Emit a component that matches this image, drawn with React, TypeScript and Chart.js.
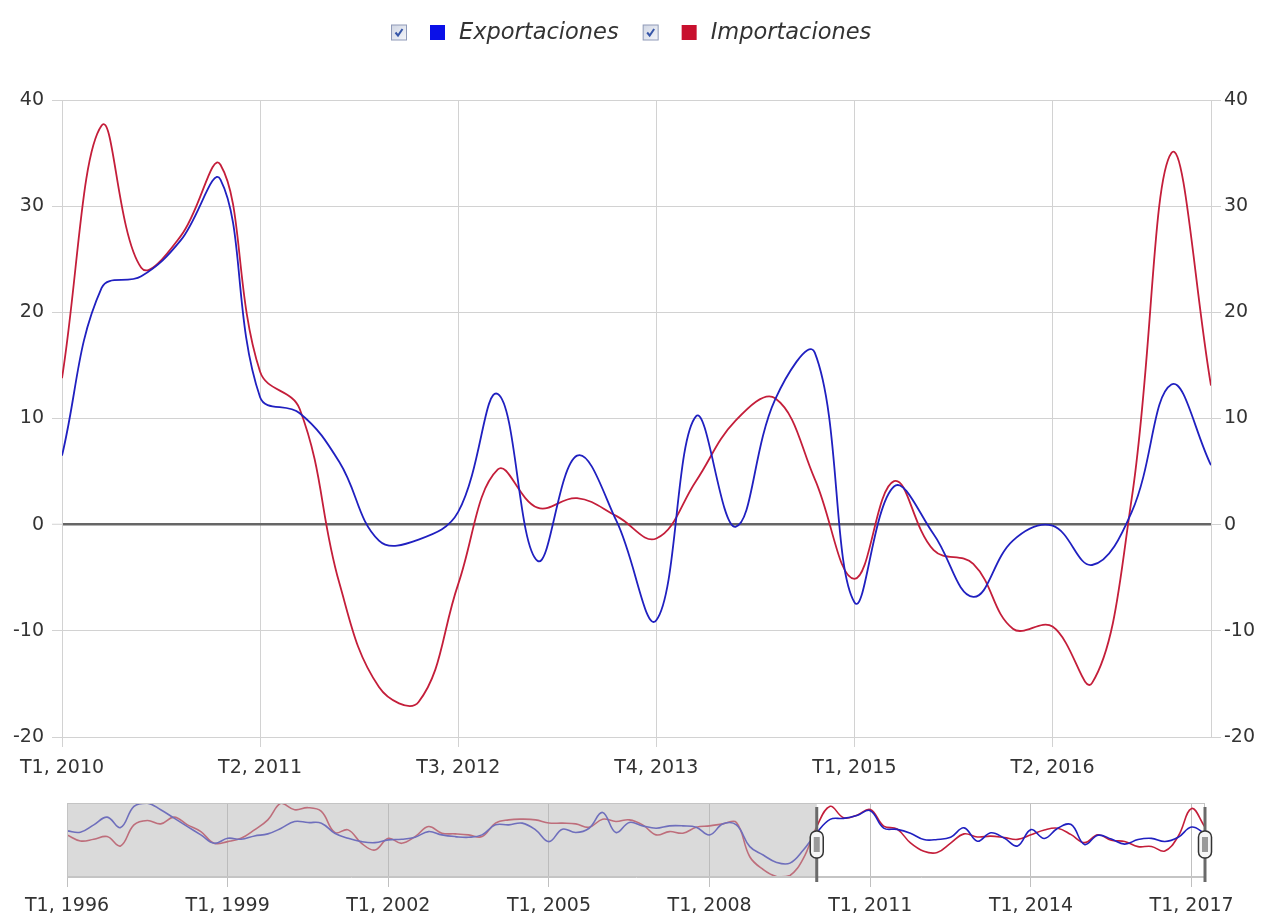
import React, { useEffect, useRef } from 'react';
import { Chart, registerables } from 'chart.js';

Chart.register(...registerables);

const FONT = '"DejaVu Sans", Verdana, sans-serif';

// Tick labels
const mainTickLabels = ['T1, 2010', 'T2, 2011', 'T3, 2012', 'T4, 2013', 'T1, 2015', 'T2, 2016'];
const mainTickStep = 5;
const navTickLabels = ['T1, 1996', 'T1, 1999', 'T1, 2002', 'T1, 2005', 'T1, 2008', 'T1, 2011', 'T1, 2014', 'T1, 2017'];
const navTickStep = 12;

// Series names / colours
const seriesNames = ['Exportaciones', 'Importaciones'];
const legendColors = ['#0a10e8', '#c8102e'];
const lineColors = ['#2020c0', '#c41e3a'];

// Selected range (T1 2010 .. T2 2017), quarterly % change
const exportaciones = [6.5, 22.3, 23.4, 26.8, 32.5, 12.0, 10.5, 5.9, -1.5, -1.4, 1.2, 12.3, -3.4, 6.5, 0.3, -9.0, 10.2, -0.2, 11.8, 16.2, -7.3, 3.6, -0.9, -6.8, -1.5, -0.1, -3.8, 1.2, 13.2, 5.6];
const importaciones = [13.8, 37.6, 24.2, 27.2, 33.9, 14.4, 10.9, -5.5, -15.3, -16.7, -5.6, 5.2, 1.6, 2.5, 0.8, -1.3, 4.1, 9.8, 11.9, 4.3, -5.1, 4.1, -2.4, -3.7, -9.8, -9.6, -14.9, 2.5, 35.0, 13.1];

// Earlier history shown only in the navigator (T1 1996 .. T4 2009)
const exportacionesHist = [8.7, 7.1, 15.8, 24.9, 12.6, 37.5, 41.4, 33.6, 23.7, 13.8, 4.0, -5.9, 0.0, -1.1, 2.8, 5.2, 11.8, 19.8, 18.5, 17.8, 6.0, 0.0, -3.9, -5.1, -1.9, -1.1, 1.2, 7.9, 4.0, 2.0, 1.2, 4.0, 15.8, 15.8, 17.8, 9.9, -3.9, 10.7, 6.8, 11.8, 30.4, 6.8, 18.6, 14.6, 11.8, 14.6, 14.6, 13.0, 4.0, 17.0, 15.8, -9.8, -19.7, -28.4, -29.2, -13.8];
const importacionesHist = [4.0, -3.1, -1.1, 2.0, -9.0, 15.8, 21.0, 17.0, 24.9, 15.8, 7.9, -5.9, -3.9, 0.0, 9.9, 21.7, 41.4, 33.6, 36.0, 31.6, 6.8, 9.9, -5.9, -13.8, 0.0, -5.9, 2.0, 13.8, 6.0, 5.2, 4.0, 2.0, 17.8, 21.7, 22.5, 21.7, 18.0, 17.8, 17.0, 13.0, 22.5, 19.8, 21.7, 15.8, 4.0, 7.9, 6.0, 13.0, 14.6, 17.0, 18.6, -21.7, -36.7, -44.9, -43.7, -23.6];

const toPoints = (arr: number[]) => arr.map((v, i) => ({ x: i, y: v }));

const legendPlugin = {
  id: 'checkLegend',
  afterDraw(chart: any) {
    const ctx = chart.ctx as CanvasRenderingContext2D;
    ctx.save();
    ctx.font = `italic 22.5px ${FONT}`;
    const widths = seriesNames.map((n) => ctx.measureText(n).width);
    const toSquare = 39;
    const toText = 29;
    const gap = 24;
    const total = widths.reduce((a, w) => a + toSquare + toText + w, 0) + gap * (seriesNames.length - 1);
    let x = Math.round((chart.width - total) / 2);
    const cy = 32;
    seriesNames.forEach((name, i) => {
      // checkbox
      const bx = x + 0.5;
      const by = cy - 7.5 + 0.5;
      const g = ctx.createLinearGradient(bx, by, bx + 15, by + 15);
      g.addColorStop(0, '#d0d6e4');
      g.addColorStop(1, '#f4f6fa');
      ctx.fillStyle = g;
      ctx.fillRect(bx, by, 15, 15);
      ctx.strokeStyle = '#8f9ab8';
      ctx.lineWidth = 1;
      ctx.strokeRect(bx, by, 15, 15);
      ctx.strokeStyle = '#3656a8';
      ctx.lineWidth = 2;
      ctx.beginPath();
      ctx.moveTo(bx + 4, by + 7.5);
      ctx.lineTo(bx + 6.5, by + 10.5);
      ctx.lineTo(bx + 11, by + 4);
      ctx.stroke();
      // colour square
      ctx.fillStyle = legendColors[i];
      ctx.fillRect(x + toSquare, cy - 7, 15, 15);
      // text
      ctx.fillStyle = '#333';
      ctx.textAlign = 'left';
      ctx.textBaseline = 'middle';
      ctx.fillText(name, x + toSquare + toText, cy + 1);
      x += toSquare + toText + widths[i] + gap;
    });
    ctx.restore();
  },
};

const navigatorPlugin = {
  id: 'navMask',
  afterDatasetsDraw(chart: any) {
    const ctx = chart.ctx as CanvasRenderingContext2D;
    const xs = chart.scales.x;
    const { top, bottom, left, right } = chart.chartArea;
    const selStart = exportacionesHist.length;
    const selEnd = exportacionesHist.length + exportaciones.length - 1;
    const hs = xs.getPixelForValue(selStart);
    const he = xs.getPixelForValue(selEnd);
    ctx.save();
    ctx.fillStyle = 'rgba(185,185,185,0.52)';
    ctx.fillRect(left, top, hs - left, bottom - top);
    ctx.fillRect(he, top, right - he, bottom - top);
    ctx.strokeStyle = '#c4c4c4';
    ctx.lineWidth = 1;
    ctx.strokeRect(left + 0.5, top + 0.5, right - left - 1, bottom - top - 1);
    [hs, he].forEach((hx) => {
      ctx.strokeStyle = '#6a6a6a';
      ctx.lineWidth = 3;
      ctx.beginPath();
      ctx.moveTo(hx, top + 4);
      ctx.lineTo(hx, bottom + 5);
      ctx.stroke();
      const hy = top + 28;
      ctx.beginPath();
      (ctx as any).roundRect(hx - 6.5, hy, 13, 27, 6);
      ctx.fillStyle = '#f6f6f6';
      ctx.fill();
      ctx.strokeStyle = '#333';
      ctx.lineWidth = 1.5;
      ctx.stroke();
      ctx.fillStyle = '#9a9a9a';
      ctx.fillRect(hx - 3, hy + 6, 6, 15);
    });
    ctx.restore();
  },
};

export default function App() {
  const mainRef = useRef<HTMLCanvasElement>(null);
  const navRef = useRef<HTMLCanvasElement>(null);

  useEffect(() => {
    const tickFont = { family: FONT, size: 19 };
    const main = new Chart(mainRef.current as HTMLCanvasElement, {
      type: 'line',
      data: {
        datasets: [
          { label: seriesNames[0], data: toPoints(exportaciones), borderColor: lineColors[0], borderWidth: 1.8, pointRadius: 0, tension: 0.4, yAxisID: 'y' },
          { label: seriesNames[1], data: toPoints(importaciones), borderColor: lineColors[1], borderWidth: 1.8, pointRadius: 0, tension: 0.4, yAxisID: 'y' },
        ],
      },
      options: {
        animation: false,
        responsive: false,
        layout: { padding: { top: 100, left: 0, right: 0, bottom: 0 } },
        plugins: { legend: { display: false }, tooltip: { enabled: false } },
        scales: {
          x: {
            type: 'linear',
            min: 0,
            max: exportaciones.length - 1,
            afterFit: (s: any) => { s.height = 53; },
            ticks: {
              stepSize: mainTickStep,
              includeBounds: false,
              autoSkip: false,
              maxRotation: 0,
              padding: 10,
              color: '#333',
              font: tickFont,
              callback: (v: any) => mainTickLabels[Math.round(v / mainTickStep)] ?? '',
            },
            grid: { color: '#d2d2d2', tickLength: 10, tickColor: '#d2d2d2' },
            border: { display: false },
          },
          y: {
            position: 'left',
            min: -20,
            max: 40,
            afterFit: (s: any) => { s.width = 62; },
            ticks: { stepSize: 10, padding: 8, color: '#333', font: tickFont },
            grid: {
              color: (c: any) => (c.tick && c.tick.value === 0 ? '#666' : '#d2d2d2'),
              lineWidth: (c: any) => (c.tick && c.tick.value === 0 ? 2.5 : 1),
              tickLength: 10,
              tickColor: '#d2d2d2',
              tickWidth: 1,
            },
            border: { display: true, color: '#d2d2d2' },
          },
          y2: {
            position: 'right',
            min: -20,
            max: 40,
            afterFit: (s: any) => { s.width = 52; },
            ticks: { stepSize: 10, padding: 3, color: '#333', font: tickFont },
            grid: { drawOnChartArea: false, tickLength: 10, color: '#d2d2d2' },
            border: { display: true, color: '#d2d2d2' },
          },
        },
      } as any,
      plugins: [legendPlugin],
    });

    const navExp = exportacionesHist.concat(exportaciones);
    const navImp = importacionesHist.concat(importaciones);
    const nav = new Chart(navRef.current as HTMLCanvasElement, {
      type: 'line',
      data: {
        datasets: [
          { data: toPoints(navExp), borderColor: lineColors[0], borderWidth: 1.6, pointRadius: 0, tension: 0.4 },
          { data: toPoints(navImp), borderColor: lineColors[1], borderWidth: 1.6, pointRadius: 0, tension: 0.4 },
        ],
      },
      options: {
        animation: false,
        responsive: false,
        layout: { padding: { top: 13, left: 67, right: 58, bottom: 0 } },
        plugins: { legend: { display: false }, tooltip: { enabled: false } },
        scales: {
          x: {
            type: 'linear',
            min: 0,
            max: navExp.length - 1,
            afterFit: (s: any) => { s.height = 40; },
            ticks: {
              stepSize: navTickStep,
              includeBounds: false,
              autoSkip: false,
              maxRotation: 0,
              padding: 8,
              color: '#333',
              font: tickFont,
              callback: (v: any) => navTickLabels[Math.round(v / navTickStep)] ?? '',
            },
            grid: { color: '#c0c0c0', tickLength: 10, tickColor: '#c0c0c0' },
            border: { display: true, color: '#c4c4c4' },
          },
          y: { display: false, min: -45.5, max: 41.5 },
        },
      } as any,
      plugins: [navigatorPlugin],
    });

    return () => {
      main.destroy();
      nav.destroy();
    };
  }, []);

  return (
    <div style={{ position: 'fixed', left: 0, top: 0, width: 1263, height: 917, background: '#fff' }}>
      <canvas ref={mainRef} width={1263} height={790} style={{ position: 'absolute', left: 0, top: 0 }} />
      <canvas ref={navRef} width={1263} height={127} style={{ position: 'absolute', left: 0, top: 790 }} />
    </div>
  );
}
